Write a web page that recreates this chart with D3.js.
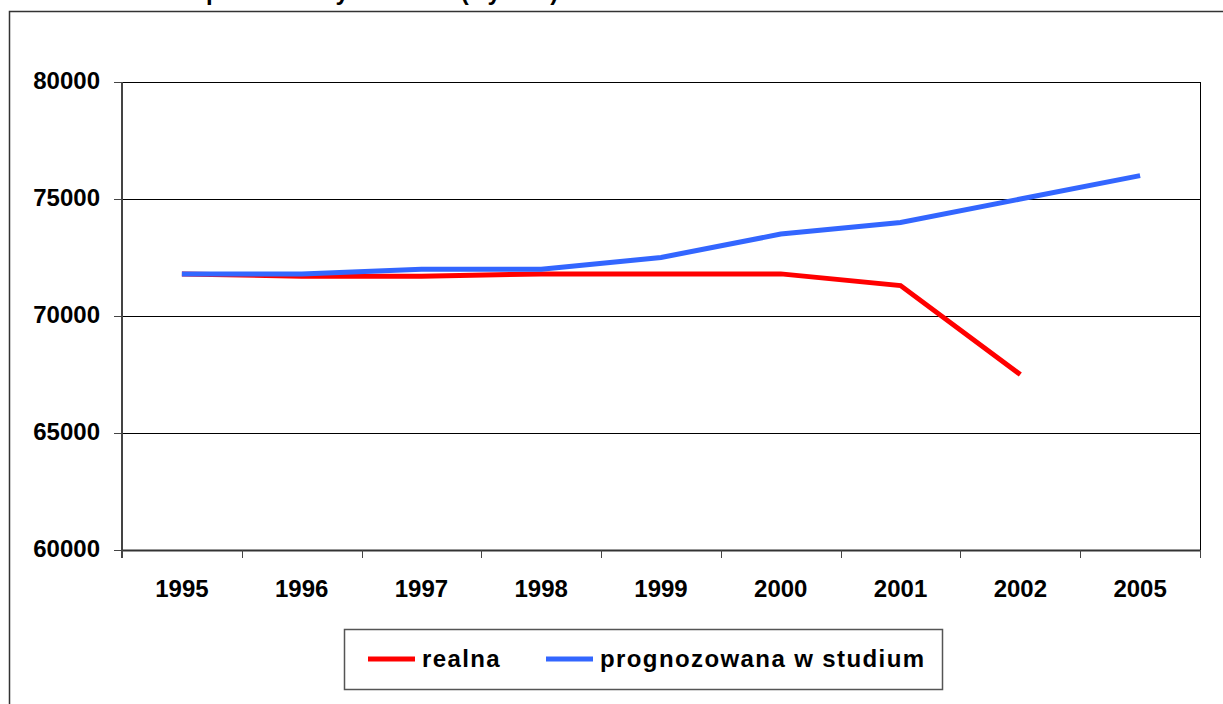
<!DOCTYPE html>
<html>
<head>
<meta charset="utf-8">
<script src="https://cdn.jsdelivr.net/npm/d3@7"></script>
<style>
    body { margin: 0; background: #fff; }
    text { font-family: "Liberation Sans", Arial, sans-serif; font-weight: bold; }
</style>
</head>
<body>
<div id="main"></div>
<script>
// data
const years = ["1995", "1996", "1997", "1998", "1999", "2000", "2001", "2002", "2005"];
const realna = [71800, 71700, 71700, 71800, 71800, 71800, 71300, 67500, null];
const prognoza = [71800, 71800, 72000, 72000, 72500, 73500, 74000, 75000, 76000];
const yTicks = [60000, 65000, 70000, 75000, 80000];
const seriesNames = ["realna", "prognozowana w studium"];

const ctx = {
    svg_w: 1223,
    svg_h: 704,
    // plot area
    left: 122,
    right: 1200,
    top: 82,
    bottom: 550,
    font_size: 24,
    tick: 8,
    colors: ["#ff0000", "#3366ff"],
    line_w: 5,
};

function createViz() {
    let svg = d3.select("#main").append("svg")
        .attr("width", ctx.svg_w)
        .attr("height", ctx.svg_h);

    // title (cut off at the top of the picture, only descenders show)
    svg.append("text")
        .attr("x", 190)
        .attr("y", 0)
        .style("font-size", "24px")
        .text("Spadek liczby ludności (wykres)");

    // outer frame, runs past the right and bottom edges
    svg.append("rect")
        .attr("x", 9.5)
        .attr("y", 11.5)
        .attr("width", 1300)
        .attr("height", 800)
        .style("fill", "none")
        .style("stroke", "#333")
        .style("stroke-width", 1.5);

    let x = d3.scaleBand()
        .domain(years)
        .range([ctx.left, ctx.right]);

    let y = d3.scaleLinear()
        .domain([60000, 80000])
        .range([ctx.bottom, ctx.top]);

    createGrid(svg, x, y);
    createLines(svg, x, y);
    createLegend(svg);
}

function createGrid(svg, x, y) {
    let g = svg.append("g");

    // horizontal gridlines
    g.selectAll(".grid")
        .data(yTicks.filter(d => d > 60000))
        .enter().append("line")
        .attr("x1", ctx.left)
        .attr("x2", ctx.right)
        .attr("y1", d => Math.round(y(d)) + 0.5)
        .attr("y2", d => Math.round(y(d)) + 0.5)
        .style("stroke", "#000")
        .style("stroke-width", 1);

    // right border
    g.append("line")
        .attr("x1", ctx.right + 0.5)
        .attr("x2", ctx.right + 0.5)
        .attr("y1", ctx.top)
        .attr("y2", ctx.bottom)
        .style("stroke", "#000");

    // y axis
    g.append("line")
        .attr("x1", ctx.left)
        .attr("x2", ctx.left)
        .attr("y1", ctx.top)
        .attr("y2", ctx.bottom + ctx.tick)
        .style("stroke", "#444")
        .style("stroke-width", 2);

    g.selectAll(".ytick")
        .data(yTicks)
        .enter().append("line")
        .attr("x1", ctx.left - ctx.tick)
        .attr("x2", ctx.left)
        .attr("y1", d => Math.round(y(d)) + 0.5)
        .attr("y2", d => Math.round(y(d)) + 0.5)
        .style("stroke", "#444")
        .style("stroke-width", 1);

    g.selectAll(".ylab")
        .data(yTicks)
        .enter().append("text")
        .attr("x", 100)
        .attr("y", d => y(d) - 1)
        .attr("dy", "0.35em")
        .attr("text-anchor", "end")
        .style("font-size", ctx.font_size + "px")
        .text(d => d);

    // x axis
    g.append("line")
        .attr("x1", ctx.left)
        .attr("x2", ctx.right)
        .attr("y1", ctx.bottom + 0.5)
        .attr("y2", ctx.bottom + 0.5)
        .style("stroke", "#333")
        .style("stroke-width", 2);

    let bounds = years.map(d => x(d)).concat([x(years[years.length - 1]) + x.bandwidth()]);
    g.selectAll(".xtick")
        .data(bounds)
        .enter().append("line")
        .attr("x1", d => Math.round(d) + 0.5)
        .attr("x2", d => Math.round(d) + 0.5)
        .attr("y1", ctx.bottom)
        .attr("y2", ctx.bottom + ctx.tick)
        .style("stroke", "#444");

    g.selectAll(".xlab")
        .data(years)
        .enter().append("text")
        .attr("x", d => x(d) + x.bandwidth() / 2)
        .attr("y", 597)
        .attr("text-anchor", "middle")
        .style("font-size", ctx.font_size + "px")
        .text(d => d);
}

function createLines(svg, x, y) {
    let line = d3.line()
        .defined(d => d[1] != null)
        .x(d => x(d[0]) + x.bandwidth() / 2)
        .y(d => y(d[1]));

    [realna, prognoza].forEach(function (vals, i) {
        svg.append("path")
            .datum(years.map((yr, j) => [yr, vals[j]]))
            .attr("d", line)
            .style("fill", "none")
            .style("stroke", ctx.colors[i])
            .style("stroke-width", ctx.line_w)
            .style("stroke-linejoin", "miter");
    });
}

function createLegend(svg) {
    let lg = svg.append("g");

    lg.append("rect")
        .attr("x", 344.5)
        .attr("y", 629.5)
        .attr("width", 598)
        .attr("height", 60)
        .style("fill", "#fff")
        .style("stroke", "#555")
        .style("stroke-width", 1.5);

    let items = [{ x: 368, tx: 422 }, { x: 546, tx: 600 }];
    items.forEach(function (it, i) {
        lg.append("line")
            .attr("x1", it.x)
            .attr("x2", it.x + 47)
            .attr("y1", 659)
            .attr("y2", 659)
            .style("stroke", ctx.colors[i])
            .style("stroke-width", ctx.line_w);

        lg.append("text")
            .attr("x", it.tx)
            .attr("y", 667)
            .style("font-size", ctx.font_size + "px")
            .style("letter-spacing", "1.4px")
            .text(seriesNames[i]);
    });
}

createViz();
</script>
</body>
</html>
